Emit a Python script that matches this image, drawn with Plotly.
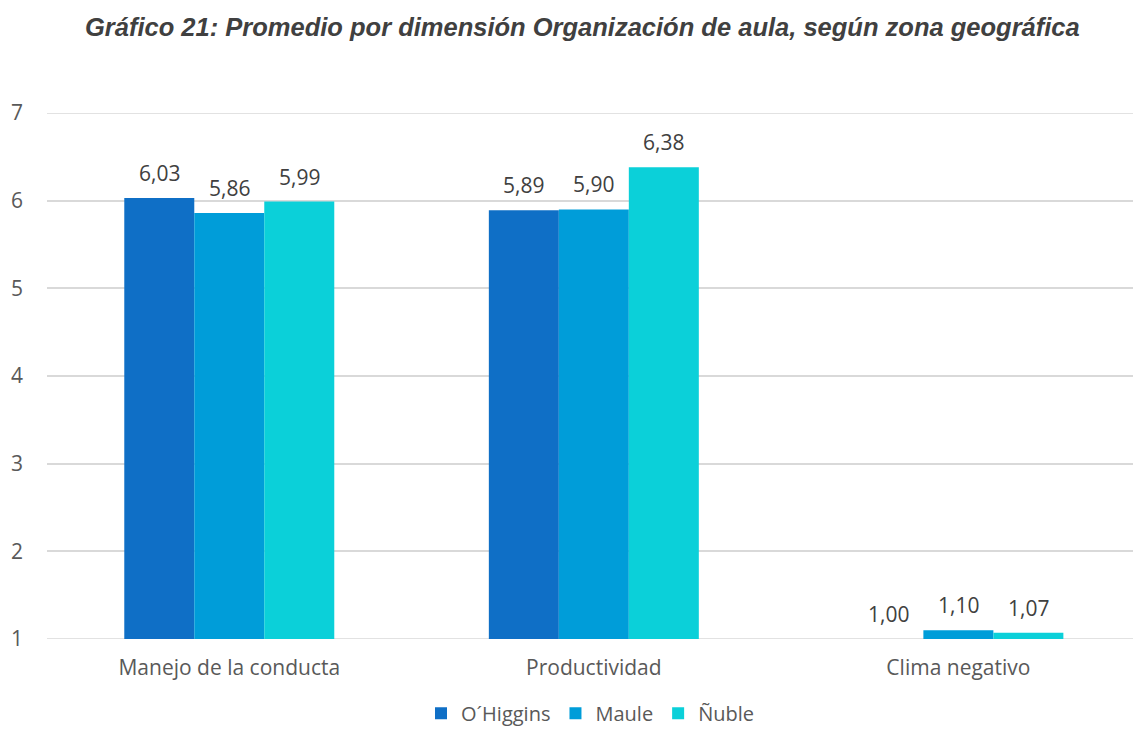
import plotly.graph_objects as go

categories = ["Manejo de la conducta", "Productividad", "Clima negativo"]
series_names = ["O´Higgins", "Maule", "Ñuble"]
ohiggins = [6.03, 5.89, 1.00]
maule = [5.86, 5.90, 1.10]
nuble = [5.99, 6.38, 1.07]
colors = ["#0F6FC6", "#009DD9", "#0BD0D9"]
y_ticks = [1, 2, 3, 4, 5, 6, 7]

values = [ohiggins, maule, nuble]
fig = go.Figure()
for name, vals, col in zip(series_names, values, colors):
    fig.add_trace(go.Bar(x=categories, y=vals, name=name, marker_color=col,
                         marker_line_width=0))

font_fam = "Open Sans, Noto Sans, sans-serif"
shifts = [-70, 0, 70]
for vals, sh in zip(values, shifts):
    for c, v in zip(categories, vals):
        fig.add_annotation(x=c, y=v, text=f"{v:.2f}".replace(".", ","),
                           xshift=sh, yshift=9, yanchor="bottom", showarrow=False,
                           font=dict(family=font_fam, size=21, color="#404040"))

# gridlines at the range edges
for yv in (y_ticks[0], y_ticks[-1]):
    fig.add_shape(type="line", xref="paper", x0=0, x1=1, yref="y", y0=yv, y1=yv,
                  line=dict(color="#D9D9D9", width=1.5), layer="below")

fig.update_layout(
    width=1133, height=731,
    paper_bgcolor="white", plot_bgcolor="white",
    margin=dict(l=47, r=0, t=113, b=92, autoexpand=False),
    title=dict(text="<b><i>Gráfico 21: Promedio por dimensión Organización de aula, según zona geográfica</i></b>",
               x=0.514, xanchor="center", y=0.963, yanchor="middle",
               font=dict(family="Liberation Sans, Arial, sans-serif", size=25.5, color="#404040")),
    barmode="group", bargap=0.424, bargroupgap=0,
    showlegend=True,
    legend=dict(orientation="h", x=0.5, xanchor="center", y=-0.141, yanchor="middle",
                font=dict(family=font_fam, size=20, color="#595959"),
                traceorder="normal"),
    font=dict(family=font_fam, color="#595959"),
)
fig.update_yaxes(range=[1, 7], tickvals=y_ticks, showgrid=True, gridcolor="#D9D9D9",
                 gridwidth=1.5, zeroline=False, showline=False,
                 tickfont=dict(size=21, color="#595959"), ticklabelstandoff=23)
fig.update_xaxes(range=[-0.5, 2.479], showline=False, showgrid=False,
                 tickfont=dict(size=21, color="#595959"), ticklabelstandoff=14)

fig.write_html("out.html", config={"displayModeBar": False},
               post_script="document.body.style.margin='0';")
